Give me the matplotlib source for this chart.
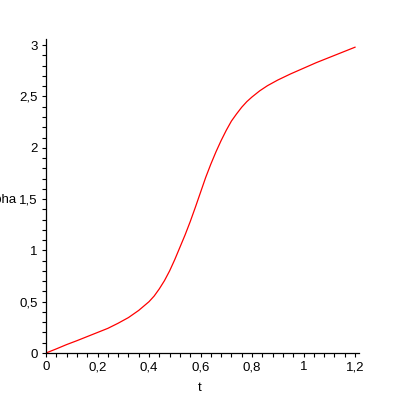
import matplotlib
matplotlib.use("Agg")
import matplotlib.pyplot as plt
from matplotlib.ticker import FixedLocator, MultipleLocator

# Data
t = [0.0, 0.04, 0.08, 0.12, 0.16, 0.20, 0.24, 0.28, 0.32, 0.36, 0.40,
     0.42, 0.44, 0.46, 0.48, 0.50, 0.52, 0.54, 0.56, 0.58, 0.60, 0.62,
     0.64, 0.66, 0.68, 0.70, 0.72, 0.74, 0.76, 0.78, 0.80, 0.83, 0.86,
     0.90, 0.95, 1.00, 1.05, 1.10, 1.15, 1.20]
alpha = [0.0, 0.04, 0.082, 0.12, 0.16, 0.20, 0.24, 0.29, 0.345, 0.415, 0.50,
         0.555, 0.625, 0.705, 0.80, 0.91, 1.03, 1.15, 1.28, 1.42, 1.565, 1.71,
         1.84, 1.96, 2.07, 2.17, 2.26, 2.33, 2.395, 2.45, 2.495, 2.555, 2.605,
         2.66, 2.72, 2.775, 2.83, 2.88, 2.93, 2.98]

x_ticks = [0, 0.2, 0.4, 0.6, 0.8, 1.0, 1.2]
x_tick_labels = ["0", "0,2", "0,4", "0,6", "0,8", "1", "1,2"]
y_ticks = [0, 0.5, 1.0, 1.5, 2.0, 2.5, 3.0]
y_tick_labels = ["0", "0,5", "1", "1,5", "2", "2,5", "3"]

plt.rcParams['font.family'] = ['Liberation Sans', 'DejaVu Sans']

fig = plt.figure(figsize=(4, 4), dpi=100)
ax = fig.add_axes([46/400, 47/400, 313/400, 314/400])
ax.plot(t, alpha, color='#ff0000', lw=0.9)
ax.set_xlim(0, 1.2155)
ax.set_ylim(0, 3.06)

for s in ['top', 'right']:
    ax.spines[s].set_visible(False)
for s in ['left', 'bottom']:
    ax.spines[s].set_linewidth(0.9)
    ax.spines[s].set_color('black')

ax.xaxis.set_major_locator(FixedLocator(x_ticks))
ax.set_xticklabels(x_tick_labels)
ax.yaxis.set_major_locator(FixedLocator(y_ticks))
ax.set_yticklabels(y_tick_labels)
ax.xaxis.set_minor_locator(MultipleLocator(0.04))
ax.yaxis.set_minor_locator(MultipleLocator(0.1))
ax.tick_params(which='both', direction='out', length=3, width=0.8, labelsize=9.5, pad=3)

fig.text(17/400, 1 - 200/400, "alpha", ha='right', va='center', fontsize=9.5)
fig.text(200/400, 1 - 388/400, "t", ha='center', va='center', fontsize=9.5)

fig.savefig("out.png", dpi=100)
